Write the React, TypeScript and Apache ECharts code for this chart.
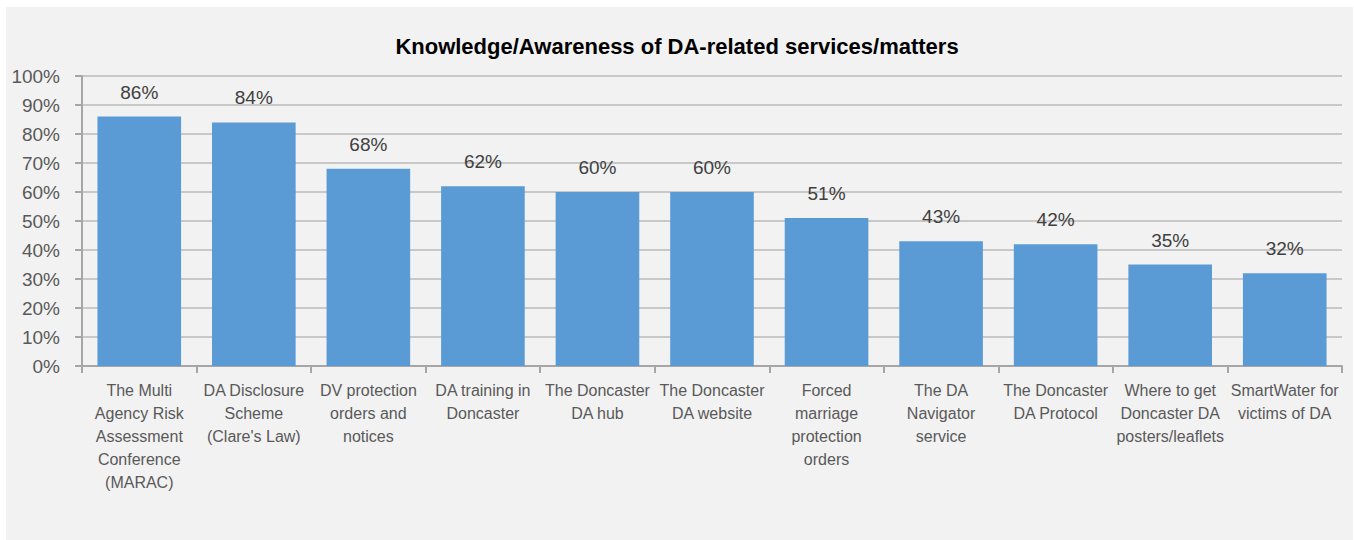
import React, { useEffect, useRef } from "react";
import * as echarts from "echarts";

const title = "Knowledge/Awareness of DA-related services/matters";
const categories = [
  "The Multi\nAgency Risk\nAssessment\nConference\n(MARAC)",
  "DA Disclosure\nScheme\n(Clare's Law)",
  "DV protection\norders and\nnotices",
  "DA training in\nDoncaster",
  "The Doncaster\nDA hub",
  "The Doncaster\nDA website",
  "Forced\nmarriage\nprotection\norders",
  "The DA\nNavigator\nservice",
  "The Doncaster\nDA Protocol",
  "Where to get\nDoncaster DA\nposters/leaflets",
  "SmartWater for\nvictims of DA",
];
const values = [86, 84, 68, 62, 60, 60, 51, 43, 42, 35, 32];

export default function App() {
  const ref = useRef<HTMLDivElement>(null);
  useEffect(() => {
    if (!ref.current) return;
    const chart = echarts.init(ref.current, undefined, { renderer: "svg" });
    const font = "'Liberation Sans', Arial, sans-serif";
    chart.setOption({
      animation: false,
      backgroundColor: "#ffffff",
      graphic: [
        {
          type: "rect",
          shape: { x: 6, y: 7, width: 1347, height: 540 },
          style: { fill: "#f2f2f2" },
          z: -10,
          silent: true,
        },
      ],
      title: {
        text: title,
        left: "center",
        top: 30,
        textStyle: { fontFamily: font, fontSize: 22, fontWeight: "bold", color: "#000000" },
      },
      grid: { left: 82, right: 12, top: 76, bottom: 174, containLabel: false },
      xAxis: {
        type: "category",
        data: categories,
        axisLine: { lineStyle: { color: "#a6a6a6", width: 2 } },
        axisTick: { show: true, length: 7, alignWithLabel: false, lineStyle: { color: "#a6a6a6", width: 2 } },
        axisLabel: {
          interval: 0,
          margin: 13,
          fontFamily: font,
          fontSize: 16,
          lineHeight: 23,
          color: "#595959",
          align: "center",
        },
      },
      yAxis: {
        type: "value",
        min: 0,
        max: 100,
        interval: 10,
        axisLine: { show: true, lineStyle: { color: "#a6a6a6", width: 2 } },
        axisTick: { show: true, length: 7, lineStyle: { color: "#a6a6a6", width: 2 } },
        splitLine: { lineStyle: { color: "#c8c8c8", width: 2 } },
        axisLabel: {
          formatter: "{value}%",
          margin: 22,
          fontFamily: font,
          fontSize: 19,
          color: "#595959",
        },
      },
      series: [
        {
          type: "bar",
          data: values,
          barCategoryGap: "27%",
          itemStyle: { color: "#5b9bd5" },
          label: {
            show: true,
            position: "top",
            distance: 15,
            formatter: "{c}%",
            fontFamily: font,
            fontSize: 19,
            color: "#404040",
          },
        },
      ],
    });
    return () => chart.dispose();
  }, []);
  return (
    <div style={{ position: "absolute", left: 0, top: 0, width: 1354, height: 540, background: "#ffffff" }}>
      <div ref={ref} style={{ width: 1354, height: 540 }} />
    </div>
  );
}
